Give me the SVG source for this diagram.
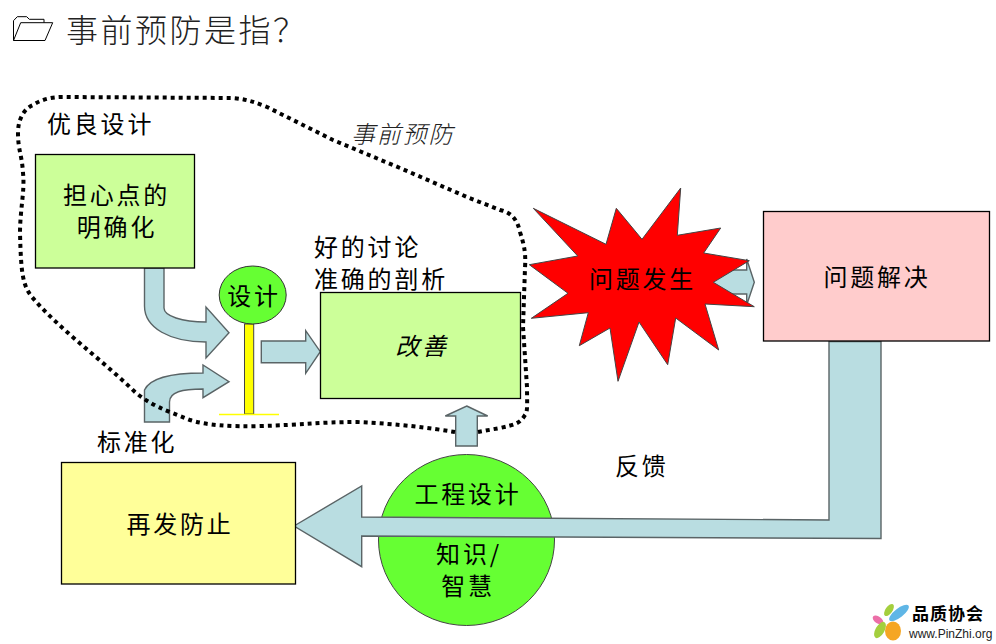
<svg xmlns="http://www.w3.org/2000/svg" width="996" height="644" viewBox="0 0 996 644">
<style>
text{font-family:"Noto Sans CJK SC","Liberation Sans",sans-serif;fill:#000;font-size:24px;letter-spacing:2.8px}
.m{text-anchor:middle}
.box{stroke:#000;stroke-width:1.3}
.arrow{fill:#b9dde1;stroke:#5a6466;stroke-width:1.4;stroke-linejoin:miter}
.dot{fill:none;stroke:#000;stroke-width:4;stroke-dasharray:4 4}
</style>
<rect width="996" height="644" fill="#fff"/>
<g id="title">
<path d="M13.5 40.5V20.7L17.3 16.7H26.7L29.3 19.3H44V22.7M20.7 22.7H52.7L45 40.5H13.5Z" fill="none" stroke="#000" stroke-width="1"/>
<text x="66" y="42" style="font-size:32px;letter-spacing:2.5px;fill:#222;font-weight:300">事前预防是指？</text>
</g>
<g id="node-engineering">
<ellipse cx="466.5" cy="540" rx="88" ry="85.5" fill="#66ff33" stroke="#444" stroke-width="1"/>
<text class="m" x="468" y="503">工程设计</text>
<text class="m" x="469" y="563">知识/</text>
<text class="m" x="468" y="595">智慧</text>
</g>
<g id="connectors">
<path class="arrow" d="M144.5 268H164V308C164 316 182 322 206 322V307L229 332.7L206 358V342C170 342 144.5 328 144.5 306Z"/>
<path class="arrow" d="M144.5 422V390C150 378 172 373 203 373V365L229 381.7L203 397.7V389C182 389 169.5 392 169.5 402V422Z"/>
<path class="arrow" d="M261.3 341H305.7V330.7L320.3 351.7L305.7 373.3V362.7H261.3Z"/>
<path class="arrow" d="M466.7 406L487.7 416H477.3V446H455.7V416H445.3Z"/>
<path class="arrow" d="M700 270H746.7V259L754.3 282.3L746.7 305V294H700Z"/>
<path class="arrow" d="M294 526L361.7 486V517L829 520V341.5H881V538.5L361.7 536V566.7Z"/>
</g>
<g id="region-prevention">
<path class="dot" d="M455 432C430 428 400 424 357 422C320 422 300 425 260 426C230 427 205 425 190 420C165 410 150 405 135 392C100 358 60 330 32 297C22 285 21 270 20 233C20 210 25 190 23 173C22 155 18 150 18 133C18 118 25 108 33 105C42 99 52 97 63 97L233 98C245 99 255 102 267 107L333 140L400 168L467 197L500 210C510 212 517 218 520 232C524 245 526 252 525 268L523 327L527 387C527 402 528 412 525 415C520 424 513 425 500 428L478 432"/>
<text x="351" y="143" style="font-style:italic;letter-spacing:1.8px;fill:#222;font-weight:300">事前预防</text>
</g>
<g id="node-good-design"><text x="47" y="133">优良设计</text></g>
<g id="node-worry">
<rect class="box" x="35.5" y="154.5" width="159" height="113.5" fill="#ccff99"/>
<text class="m" x="116.5" y="204">担心点的</text>
<text class="m" x="117" y="236">明确化</text>
</g>
<g id="node-design">
<rect x="244.5" y="324" width="9.2" height="90" fill="#ffff00" stroke="#444" stroke-width="1"/>
<line x1="219" y1="414.5" x2="279" y2="414.5" stroke="#ffff00" stroke-width="1.5"/>
<ellipse cx="252.7" cy="295" rx="33.5" ry="29" fill="#66ff33" stroke="#333" stroke-width="1"/>
<text class="m" x="254" y="305">设计</text>
</g>
<g id="node-discussion">
<text x="314" y="256">好的讨论</text>
<text x="314" y="288">准确的剖析</text>
</g>
<g id="node-improve">
<rect class="box" x="320.5" y="292.5" width="200" height="106" fill="#ccff99"/>
<text class="m" x="422" y="355" style="font-style:italic">改善</text>
</g>
<g id="node-problem">
<path fill="#ff0000" stroke="#444" stroke-width="1" d="M533.3 208.3L606 244.3L616.3 208.3L642 239.3L680.7 188L677.3 235.3L720.7 228L703.7 253L749.3 260.7L713.3 282.3L754.3 306.7L705 304L718.7 350L675.7 318L667.7 364.7L639 322L618 381.3L610 328L579.3 345.7L588.3 312.7L531.3 318.3L568 293.3L529.3 264.7L577.7 256Z"/>
<text class="m" x="642.5" y="288">问题发生</text>
</g>
<g id="node-solve">
<rect class="box" x="763.5" y="211.5" width="226" height="129.5" fill="#ffcccc"/>
<text class="m" x="877" y="286">问题解决</text>
</g>
<g id="node-standard"><text x="97" y="451">标准化</text></g>
<g id="node-recur">
<rect class="box" x="61.5" y="462.5" width="234" height="121.5" fill="#ffff99"/>
<text class="m" x="180" y="533">再发防止</text>
</g>
<g id="node-feedback"><text x="615" y="475">反馈</text></g>
<g id="logo">
<ellipse cx="899" cy="613" rx="12" ry="4.5" fill="#5fb6e6" transform="rotate(-38 899 613)"/>
<ellipse cx="889" cy="610" rx="7" ry="3.5" fill="#a4cf3e" transform="rotate(-55 889 610)"/>
<ellipse cx="878" cy="620" rx="6" ry="3.5" fill="#ec6fa8" transform="rotate(35 878 620)"/>
<ellipse cx="880" cy="630" rx="9" ry="4.5" fill="#a4cf3e" transform="rotate(-60 880 630)"/>
<ellipse cx="893" cy="631" rx="8" ry="9.5" fill="#f5a623"/>
<text x="912" y="620" style="font-size:17px;font-weight:700;letter-spacing:1px">品质协会</text>
<text x="909" y="638" style="font-family:'Liberation Sans',sans-serif;font-size:12px;letter-spacing:0;fill:#222">www.PinZhi.org</text>
</g>
</svg>
